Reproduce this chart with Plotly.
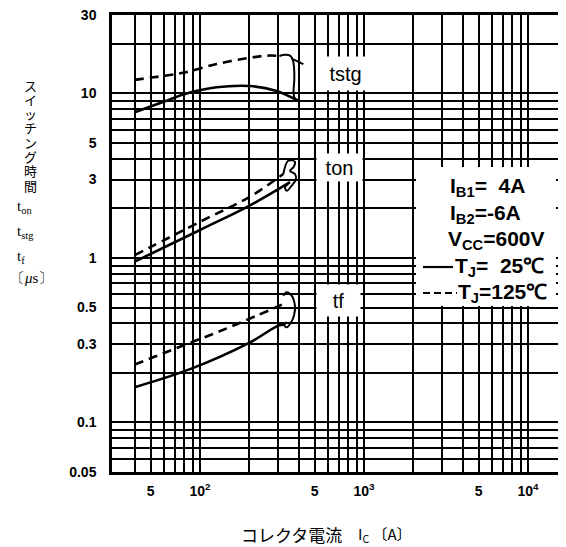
import math
import plotly.graph_objects as go

# ---- data (Ic in A, time in us) ----
tstg_25_x = [40, 60, 80, 126, 202, 290, 397]
tstg_25_y = [7.7, 8.9, 9.9, 10.9, 11.1, 10.4, 9.04]
tstg_125_x = [40, 60, 80, 126, 202, 260, 305]
tstg_125_y = [12.1, 12.8, 13.4, 15.1, 16.5, 17.0, 16.9]
tstg_loop_x = [305, 330, 354, 368, 374, 376, 372, 378, 397]
tstg_loop_y = [16.9, 17.2, 17.0, 16.0, 14.6, 12.2, 10.2, 9.35, 9.04]
tstg_tail_x = [362, 427]
tstg_tail_y = [16.3, 15.1]

ton_25_x = [40, 100, 202, 354]
ton_25_y = [0.95, 1.48, 2.09, 2.89]
ton_125_x = [40, 100, 202, 322]
ton_125_y = [1.04, 1.66, 2.36, 3.24]
ton_loop_x = [322, 345, 379, 371, 354, 379, 385, 362, 338, 330, 345]
ton_loop_y = [3.24, 3.90, 3.85, 3.56, 3.39, 3.24, 3.02, 2.75, 2.56, 2.69, 2.82]

tf_25_x = [40, 87, 202, 300, 330]
tf_25_y = [0.164, 0.211, 0.307, 0.388, 0.395]
tf_125_x = [40, 100, 120, 222, 322]
tf_125_y = [0.225, 0.322, 0.345, 0.446, 0.525]
tf_loop_x = [322, 338, 362, 379, 374, 354, 338, 327, 338]
tf_loop_y = [0.59, 0.619, 0.59, 0.513, 0.446, 0.397, 0.379, 0.389, 0.409]

x_grid = [40, 50, 60, 70, 80, 90, 100, 200, 300, 400, 500, 600, 700, 800, 900,
          1000, 2000, 3000, 4000, 5000, 6000, 7000, 8000, 9000, 10000]
x_text = ["", "5", "", "", "", "", "10<sup>2</sup>", "", "", "", "5", "", "", "", "",
          "10<sup>3</sup>", "", "", "", "5", "", "", "", "", "10<sup>4</sup>"]
y_grid = [0.05, 0.06, 0.07, 0.08, 0.09, 0.1, 0.2, 0.3, 0.4, 0.5, 0.6, 0.7, 0.8, 0.9,
          1, 2, 3, 4, 5, 6, 7, 8, 9, 10, 20, 30]
y_text = ["0.05", "", "", "", "", "0.1", "", "0.3", "", "0.5", "", "", "", "",
          "1", "", "3", "", "5", "", "", "", "", "10", "", "30"]

curve_labels = ["tstg", "ton", "tf"]
label_x = [766, 710, 700]
label_y = [13.3, 3.55, 0.552]

# layout geometry: the page adds an 8px body margin, so the figure is
# 8px smaller than the window and all reference-pixel positions shift by 8.
OFF = 8
W, H = 566 - OFF, 547 - OFF
ML, MT = 112 - OFF, 15 - OFF
MB = H - (472 - OFF)
MR = 0
PW, PH = W - ML - MR, H - MT - MB


def pxx(p):
    return (p - OFF - ML) / PW


def pxy(p):
    return (H - MB - (p - OFF)) / PH


fig = go.Figure()
SOLID = dict(color="black", width=2.6, shape="spline")
DASH = dict(color="black", width=2.6, dash="9px,6px", shape="spline")
THIN = dict(color="black", width=2, shape="spline")
for xs, ys, ln in [
    (tstg_25_x, tstg_25_y, SOLID), (tstg_125_x, tstg_125_y, DASH),
    (tstg_loop_x, tstg_loop_y, THIN), (tstg_tail_x, tstg_tail_y, THIN),
    (ton_25_x, ton_25_y, SOLID), (ton_125_x, ton_125_y, DASH),
    (ton_loop_x, ton_loop_y, THIN),
    (tf_25_x, tf_25_y, SOLID), (tf_125_x, tf_125_y, DASH),
    (tf_loop_x, tf_loop_y, THIN),
]:
    fig.add_trace(go.Scatter(x=xs, y=ys, mode="lines", line=ln,
                             showlegend=False, hoverinfo="skip"))

tickfont = dict(family="Liberation Sans", size=14, color="black", weight="bold")
fig.update_xaxes(type="log", range=[1.4634, 4.2317], tickmode="array",
                 tickvals=x_grid, ticktext=x_text, showgrid=True,
                 gridcolor="black", gridwidth=2, showline=True, linecolor="black",
                 linewidth=2.5, mirror=True, ticks="", tickfont=tickfont,
                 ticklabelstandoff=4, zeroline=False, ticklabeloverflow="allow")
fig.update_yaxes(type="log",
                 range=[math.log10(0.05) - 1e-5, math.log10(30) + 1e-5],
                 tickmode="array",
                 tickvals=y_grid, ticktext=y_text, showgrid=True,
                 gridcolor="black", gridwidth=2, showline=True, linecolor="black",
                 linewidth=2.5, ticks="", tickfont=tickfont,
                 ticklabelstandoff=10, zeroline=False, ticklabeloverflow="allow")

# curve labels with white masks (log axes -> annotation coords in log10)
box_w = [55, 45, 43]
box_h = [33, 27, 31]
for t, lx, ly, bw, bh in zip(curve_labels, label_x, label_y, box_w, box_h):
    fig.add_annotation(x=math.log10(lx), y=math.log10(ly), xref="x", yref="y",
                       text=t, showarrow=False, bgcolor="white", width=bw,
                       height=bh, borderpad=0,
                       font=dict(family="Liberation Sans", size=20, color="black"))

# condition box
fig.add_shape(type="rect", xref="paper", yref="paper", x0=pxx(416), x1=pxx(556),
              y0=pxy(306), y1=pxy(167), fillcolor="white", line=dict(width=0),
              layer="above")
cond_font = dict(family="Liberation Sans", size=21, color="black", weight="bold")
cond = [("I<sub>B1</sub>=  4A", 448, 187),
        ("I<sub>B2</sub>=-6A", 448, 214),
        ("V<sub>CC</sub>=600V", 446, 240),
        ("T<sub>J</sub>=  25℃", 453, 267),
        ("T<sub>J</sub>=125℃", 456, 293)]
for t, ax, ay in cond:
    fig.add_annotation(x=pxx(ax), y=pxy(ay), xref="paper", yref="paper", text=t,
                       showarrow=False, xanchor="left", yanchor="middle",
                       font=cond_font)
fig.add_shape(type="line", xref="paper", yref="paper", x0=pxx(423), x1=pxx(453),
              y0=pxy(267), y1=pxy(267), line=dict(color="black", width=2.2),
              layer="above")
fig.add_shape(type="line", xref="paper", yref="paper", x0=pxx(423), x1=pxx(457),
              y0=pxy(293), y1=pxy(293),
              line=dict(color="black", width=2.2, dash="7px,4px"), layer="above")

# vertical y-axis title
ytitle_chars = ["ス", "イ", "ッ", "チ", "ン", "グ", "時", "間"]
for i, ch in enumerate(ytitle_chars):
    fig.add_annotation(x=pxx(30), y=pxy(85 + 14.3 * i), xref="paper", yref="paper",
                       text=ch, showarrow=False, xanchor="center", yanchor="middle",
                       font=dict(family="Noto Sans CJK JP", size=13, color="black"))
side = [("t<sub>on</sub>", 15, 207), ("t<sub>stg</sub>", 15, 232),
        ("t<sub>f</sub>", 15, 257), ("〔<i>μ</i>s〕", 8, 278)]
for t, sx, sy in side:
    fig.add_annotation(x=pxx(sx), y=pxy(sy), xref="paper", yref="paper", text=t,
                       showarrow=False, xanchor="left", yanchor="middle",
                       font=dict(family="Liberation Serif", size=15, color="black"))

fig.add_annotation(x=pxx(291), y=pxy(534), xref="paper", yref="paper",
                   text="コレクタ電流", showarrow=False, xanchor="center",
                   yanchor="middle",
                   font=dict(family="Noto Sans CJK JP", size=17, color="black"))
fig.add_annotation(x=pxx(356), y=pxy(534), xref="paper", yref="paper",
                   text="I<sub>C</sub> 〔A〕", showarrow=False, xanchor="left",
                   yanchor="middle",
                   font=dict(family="Noto Sans CJK JP", size=15, color="black"))

fig.update_layout(width=W, height=H,
                  margin=dict(l=ML, r=MR, t=MT, b=MB, autoexpand=False),
                  paper_bgcolor="white", plot_bgcolor="white", showlegend=False)

fig.write_html("out.html")
